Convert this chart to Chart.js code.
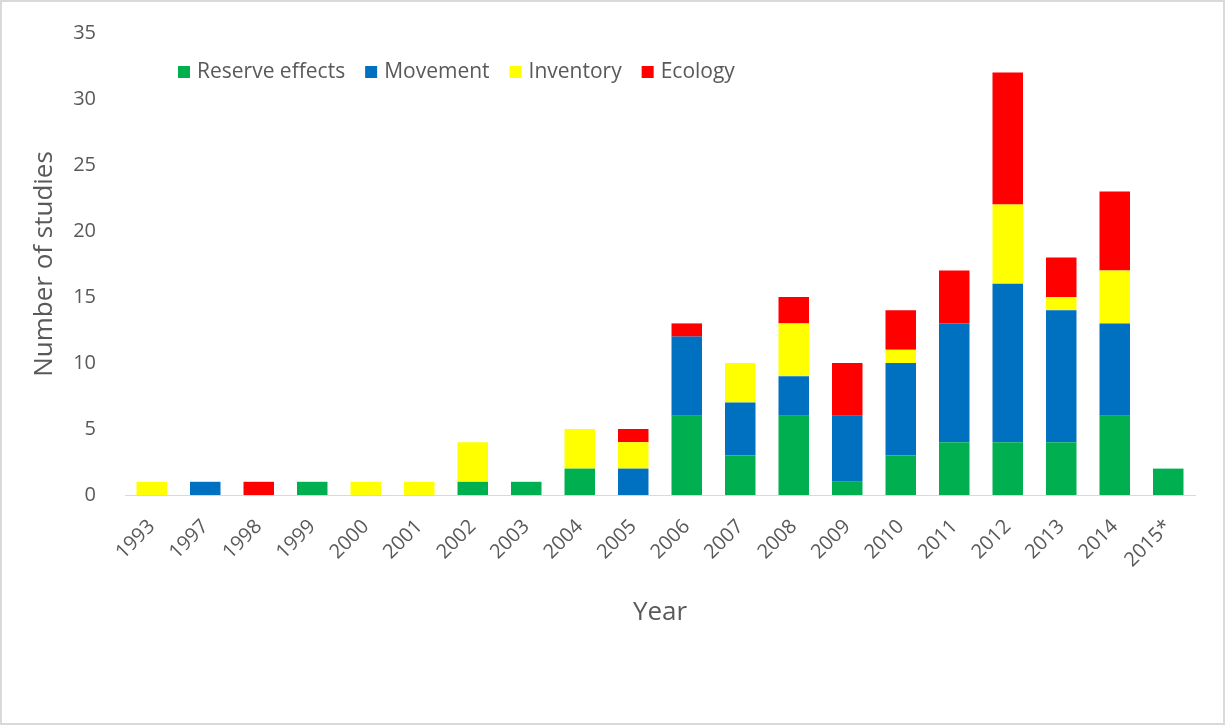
<!DOCTYPE html>
<html>
<head>
<meta charset="utf-8">
<script src="https://cdn.jsdelivr.net/npm/chart.js@4.4.1/dist/chart.umd.min.js"></script>
<style>
  body { margin: 0; background: #fff; }
  #wrap { position: relative; width: 1225px; height: 725px; }
  #frame { position: absolute; left: 0; top: 0; width: 1221px; height: 721px; border: 2px solid #d9d9d9; pointer-events: none; }
  canvas { position: absolute; left: 0; top: 0; }
</style>
</head>
<body>
<div id="wrap">
  <canvas id="chart" width="1225" height="725"></canvas>
  <div id="frame"></div>
</div>
<script>
// Data
const years = ["1993", "1997", "1998", "1999", "2000", "2001", "2002", "2003", "2004", "2005",
               "2006", "2007", "2008", "2009", "2010", "2011", "2012", "2013", "2014", "2015*"];
const reserveEffects = [0, 0, 0, 1, 0, 0, 1, 1, 2, 0, 6, 3, 6, 1, 3, 4, 4, 4, 6, 2];
const movement       = [0, 1, 0, 0, 0, 0, 0, 0, 0, 2, 6, 4, 3, 5, 7, 9, 12, 10, 7, 0];
const inventory      = [1, 0, 0, 0, 1, 1, 3, 0, 3, 2, 0, 3, 4, 0, 1, 0, 6, 1, 4, 0];
const ecology        = [0, 0, 1, 0, 0, 0, 0, 0, 0, 1, 1, 0, 2, 4, 3, 4, 10, 3, 6, 0];
const yTicks = [0, 5, 10, 15, 20, 25, 30, 35];

const textColor = "#595959";
const fontFamily = "'Open Sans', sans-serif";

// legend drawn inside the plot area, like the Excel original
const insideLegend = {
    id: "insideLegend",
    afterDraw(chart) {
        const ctx = chart.ctx;
        const area = chart.chartArea;
        let x = area.left + 53;
        const y = 72;
        ctx.save();
        ctx.font = "21px " + fontFamily;
        ctx.textBaseline = "middle";
        ctx.textAlign = "left";
        chart.data.datasets.forEach(ds => {
            ctx.fillStyle = ds.backgroundColor;
            ctx.fillRect(x, y - 6, 12, 12);
            ctx.fillStyle = textColor;
            ctx.fillText(ds.label, x + 19, y);
            x += 19 + ctx.measureText(ds.label).width + 20;
        });
        ctx.restore();
    }
};

const ctx = document.getElementById("chart").getContext("2d");
new Chart(ctx, {
    type: "bar",
    data: {
        labels: years,
        datasets: [
            { label: "Reserve effects", data: reserveEffects, backgroundColor: "#00B050" },
            { label: "Movement", data: movement, backgroundColor: "#0070C0" },
            { label: "Inventory", data: inventory, backgroundColor: "#FFFF00" },
            { label: "Ecology", data: ecology, backgroundColor: "#FF0000" }
        ]
    },
    options: {
        responsive: false,
        animation: false,
        devicePixelRatio: 1,
        layout: { padding: { left: 8, right: 30, top: 32, bottom: 80 } },
        datasets: {
            bar: { categoryPercentage: 1, barPercentage: 0.57, borderWidth: 0 }
        },
        plugins: {
            legend: { display: false },
            tooltip: { enabled: false }
        },
        scales: {
            x: {
                stacked: true,
                grid: { display: false },
                border: { display: true, color: "#d9d9d9", width: 1 },
                ticks: {
                    color: textColor,
                    font: { family: fontFamily, size: 20 },
                    minRotation: 45,
                    maxRotation: 45,
                    autoSkip: false,
                    padding: 12
                },
                title: {
                    display: true,
                    text: "Year",
                    color: textColor,
                    font: { family: fontFamily, size: 26 },
                    padding: { top: 0, bottom: 17 }
                },
                afterFit(scale) { scale.height = 150; }
            },
            y: {
                stacked: true,
                min: 0,
                max: 35,
                grid: { display: false },
                border: { display: false },
                afterBuildTicks(scale) { scale.ticks = yTicks.map(v => ({ value: v })); },
                ticks: {
                    color: textColor,
                    font: { family: fontFamily, size: 20 },
                    padding: 21
                },
                title: {
                    display: true,
                    text: "Number of studies",
                    color: textColor,
                    font: { family: fontFamily, size: 26 },
                    padding: { top: 21, bottom: 0 }
                },
                afterFit(scale) { scale.width = 117; }
            }
        }
    },
    plugins: [insideLegend]
});
</script>
</body>
</html>
